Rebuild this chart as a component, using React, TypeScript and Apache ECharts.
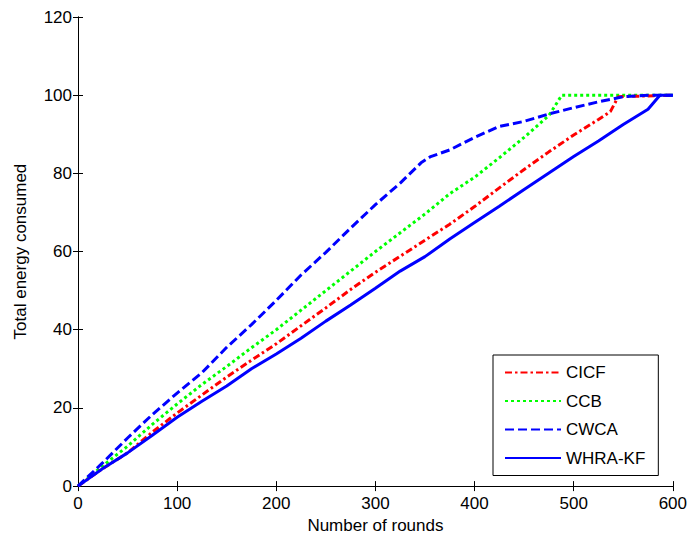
import React, { useEffect, useRef } from "react";
import * as echarts from "echarts";

const seriesNames = ["CICF", "CCB", "CWCA", "WHRA-KF"];

const cicfRounds = [0, 25, 50, 75, 100, 125, 150, 175, 200, 225, 250, 275, 300, 325, 350, 375, 400, 425, 450, 475, 500, 525, 537, 545, 600];
const cicfEnergy = [0, 4.5, 8.5, 13.8, 18.7, 23.3, 27.9, 32.2, 36.4, 41, 45.6, 50.3, 54.7, 58.8, 62.9, 67, 71.5, 76.3, 81, 85.5, 89.8, 93.8, 95.8, 99.6, 100];

const ccbRounds = [0, 25, 50, 75, 100, 125, 150, 175, 200, 225, 250, 275, 300, 325, 350, 375, 400, 425, 450, 475, 488, 600];
const ccbEnergy = [0, 5.2, 10.2, 15.8, 21, 26, 30.6, 35.4, 40, 45, 50, 55, 60, 64.8, 69.6, 74.8, 79, 84, 89.2, 94.8, 100, 100];

const cwcaRounds = [0, 25, 50, 75, 100, 125, 150, 175, 200, 225, 250, 275, 300, 325, 346, 355, 375, 400, 425, 450, 475, 500, 525, 550, 575, 600];
const cwcaEnergy = [0, 6, 12.3, 18.3, 23.8, 29, 35.5, 41.3, 47.5, 54, 59.8, 66, 72, 77.5, 82.7, 84.2, 86, 89.2, 92, 93.3, 95.2, 96.8, 98.3, 99.6, 100, 100];

const whraRounds = [0, 25, 50, 75, 100, 125, 150, 175, 200, 225, 250, 275, 300, 325, 350, 375, 400, 425, 450, 475, 500, 525, 550, 575, 587, 600];
const whraEnergy = [0, 4.5, 8.5, 13, 17.6, 21.7, 25.6, 30, 33.8, 37.8, 42.2, 46.3, 50.6, 55, 58.7, 63.2, 67.4, 71.6, 75.9, 80.1, 84.3, 88.3, 92.5, 96.4, 100, 100];

const xTicks = { min: 0, max: 600, interval: 100 };
const yTicks = { min: 0, max: 120, interval: 20 };

const pairs = (xs: number[], ys: number[]) => xs.map((x, i) => [x, ys[i]]);

const FONT = "'Liberation Sans', Arial, sans-serif";

export default function App() {
  const ref = useRef<HTMLDivElement>(null);
  useEffect(() => {
    if (!ref.current) return;
    const chart = echarts.init(ref.current, null, { renderer: "svg" });
    const axisCommon = {
      axisLine: { show: true, lineStyle: { color: "#000", width: 1 } },
      axisTick: { show: true, inside: true, length: 5, lineStyle: { color: "#000" } },
      splitLine: { show: false },
    };
    chart.setOption({
      animation: false,
      backgroundColor: "#fff",
      textStyle: { fontFamily: FONT },
      grid: { left: 78, right: 14, top: 17, bottom: 51, containLabel: false },
      legend: {
        orient: "vertical",
        left: 493,
        top: 355,
        width: 166,
        itemWidth: 56,
        itemHeight: 14,
        itemGap: 11.5,
        padding: [9, 13, 9, 11],
        borderColor: "#000",
        borderWidth: 1,
        backgroundColor: "#fff",
        itemStyle: { opacity: 0 },
        textStyle: { fontSize: 17, color: "#000", fontFamily: FONT },
        data: seriesNames,
      },
      xAxis: [
        {
          type: "value",
          ...xTicks,
          position: "bottom",
          name: "Number of rounds",
          nameLocation: "middle",
          nameGap: 27,
          nameTextStyle: { fontSize: 17, color: "#000", fontFamily: FONT },
          axisLabel: { fontSize: 17, color: "#000", margin: 9, fontFamily: FONT },
          ...axisCommon,
        },
        {
          type: "value",
          ...xTicks,
          position: "top",
          axisLabel: { show: false },
          ...axisCommon,
        },
      ],
      yAxis: [
        {
          type: "value",
          ...yTicks,
          position: "left",
          name: "Total energy consumed",
          nameLocation: "middle",
          nameGap: 49,
          nameTextStyle: { fontSize: 17, color: "#000", fontFamily: FONT },
          axisLabel: { fontSize: 17, color: "#000", margin: 6, fontFamily: FONT },
          ...axisCommon,
        },
        {
          type: "value",
          ...yTicks,
          position: "right",
          axisLabel: { show: false },
          ...axisCommon,
        },
      ],
      series: [
        {
          name: "CICF",
          type: "line",
          symbol: "none",
          data: pairs(cicfRounds, cicfEnergy),
          lineStyle: { color: "#ff0000", width: 3, type: [7, 3, 2.5, 3] },
          itemStyle: { color: "#ff0000" },
          z: 3,
        },
        {
          name: "CCB",
          type: "line",
          symbol: "none",
          data: pairs(ccbRounds, ccbEnergy),
          lineStyle: { color: "#00ff00", width: 3, type: [3, 3] },
          itemStyle: { color: "#00ff00" },
          z: 2,
        },
        {
          name: "CWCA",
          type: "line",
          symbol: "none",
          data: pairs(cwcaRounds, cwcaEnergy),
          lineStyle: { color: "#0000ff", width: 3, type: [9, 4] },
          itemStyle: { color: "#0000ff" },
          z: 4,
        },
        {
          name: "WHRA-KF",
          type: "line",
          symbol: "none",
          data: pairs(whraRounds, whraEnergy),
          lineStyle: { color: "#0000ff", width: 3, type: "solid" },
          itemStyle: { color: "#0000ff" },
          z: 5,
        },
      ],
    });
    return () => chart.dispose();
  }, []);
  return (
    <div
      ref={ref}
      style={{ position: "fixed", left: 0, top: 0, width: 690, height: 539 }}
    />
  );
}
